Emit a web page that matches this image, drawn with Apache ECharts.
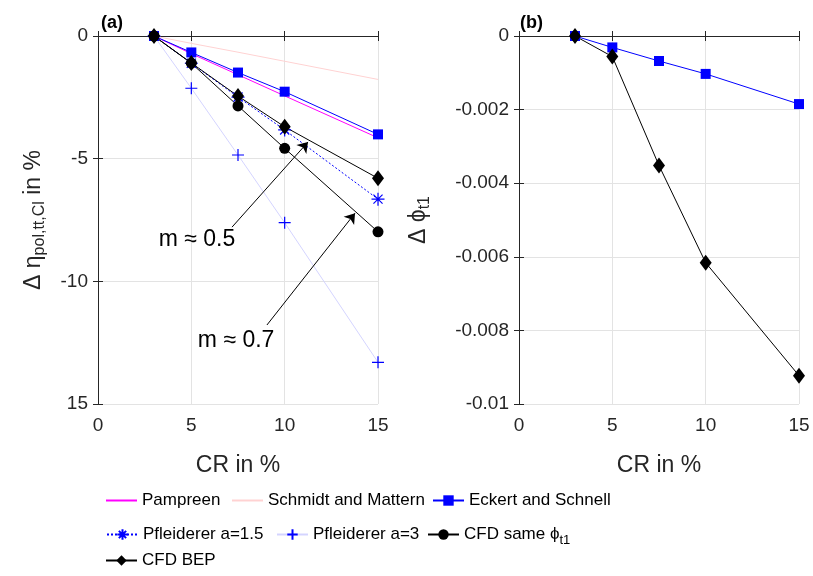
<!DOCTYPE html>
<html>
<head>
<meta charset="utf-8">
<script src="https://cdn.jsdelivr.net/npm/echarts@6/dist/echarts.min.js"></script>
<style>
  html, body { margin: 0; padding: 0; background: #fff; }
  #chart { width: 813px; height: 576px; }
</style>
</head>
<body>
<div id="chart"></div>
<script>
// CR values (%)
const cr = [3, 5, 7.5, 10, 15];

// panel (a): change of efficiency in %
const pampreen = [0, -0.72, -1.58, -2.44, -4.15];
const schmidt = [0, -0.3, -0.66, -1.03, -1.77];
const eckertA = [0, -0.67, -1.49, -2.27, -4.01];
const pfl15 = [0, -1.11, -2.49, -3.83, -6.65];
const pfl3 = [0, -2.13, -4.85, -7.61, -13.3];
const cfdSame = [0, -1.11, -2.85, -4.58, -7.98];
const cfdBepA = [0, -1.1, -2.45, -3.7, -5.8];

// panel (b): change of flow coefficient
const eckertB = [0, -0.00031, -0.00068, -0.00103, -0.00185];
const cfdBepB = [0, -0.00056, -0.00352, -0.00616, -0.00923];

// tick labels
const xTickValues = [0, 5, 10, 15];
const leftTickValues = [0, -5, -10, -15];
const leftTickLabels = ['0', '-5', '-10', '15'];
const rightTickValues = [0, -0.002, -0.004, -0.006, -0.008, -0.01];
const rightTickLabels = ['0', '-0.002', '-0.004', '-0.006', '-0.008', '-0.01'];

// annotation arrows in panel (a): [tail, head]
const arrows = [
  [[7.18, -7.79], [11.25, -4.32]],
  [[9.05, -11.78], [13.77, -7.22]]
];
const notes = [
  { text: 'm ≈ 0.5', at: [5.3, -8.3] },
  { text: 'm ≈ 0.7', at: [7.4, -12.4] }
];

const FONT = '"Liberation Sans", Arial, sans-serif';
const AX = '#262626';
const pts = (vals) => cr.map((x, i) => [x, vals[i]]);

const asterisk = 'path://M0,-10L0,10M-10,0L10,0M-7,-7L7,7M-7,7L7,-7';
const plus = 'path://M0,-10L0,10M-10,0L10,0';

function tickFmt(values, labels) {
  return (v) => {
    const i = values.findIndex(t => Math.abs(t - v) < 1e-9);
    return i >= 0 ? labels[i] : '';
  };
}

function xAxes(gridIndex) {
  return [
    {
      type: 'value', gridIndex, min: 0, max: 15, interval: 5,
      name: 'CR in %', nameLocation: 'middle', nameGap: 50,
      nameTextStyle: { fontSize: 23, color: AX, fontFamily: FONT },
      axisLine: { lineStyle: { color: AX } },
      axisTick: { inside: true, length: 5, lineStyle: { color: AX } },
      axisLabel: { fontSize: 19, color: AX, fontFamily: FONT, margin: 12,
        formatter: (v) => xTickValues.includes(v) ? String(v) : '' },
      splitLine: { show: true, lineStyle: { color: '#e3e3e3' } }
    },
    {
      type: 'value', gridIndex, min: 0, max: 15, interval: 5, position: 'top',
      axisLine: { lineStyle: { color: AX } },
      axisTick: { inside: true, length: 5, lineStyle: { color: AX } },
      axisLabel: { show: false }, splitLine: { show: false }
    }
  ];
}

function yAxes(gridIndex, min, interval, name, gap, values, labels, rich) {
  return [
    {
      type: 'value', gridIndex, min, max: 0, interval,
      name, nameLocation: 'middle', nameGap: gap, nameRotate: 90,
      nameTextStyle: { fontSize: 23, color: AX, fontFamily: FONT, rich },
      axisLine: { show: true, lineStyle: { color: AX } },
      axisTick: { show: true, inside: true, length: 5, lineStyle: { color: AX } },
      axisLabel: { fontSize: 19, color: AX, fontFamily: FONT, margin: 10,
        formatter: tickFmt(values, labels) },
      splitLine: { show: true, lineStyle: { color: '#e3e3e3' } }
    },
    {
      type: 'value', gridIndex, min, max: 0, interval, position: 'right',
      axisLine: { show: true, lineStyle: { color: AX } },
      axisTick: { show: true, inside: true, length: 5, lineStyle: { color: AX } },
      axisLabel: { show: false }, splitLine: { show: false }
    }
  ];
}

const subRich = {
  a: { fontSize: 23, color: AX, fontFamily: FONT },
  s: { fontSize: 16, color: AX, fontFamily: FONT, padding: [12, 0, 0, 0] }
};

function line(name, data, xi, yi, opts) {
  return Object.assign({
    name, type: 'line', xAxisIndex: xi, yAxisIndex: yi, data,
    symbol: 'none', animation: false, z: 3
  }, opts);
}

const series = [
  line('Pampreen', pts(pampreen), 0, 0, {
    lineStyle: { color: '#ff00ff', width: 1 }, itemStyle: { color: '#ff00ff' } }),
  line('Schmidt and Mattern', pts(schmidt), 0, 0, {
    lineStyle: { color: '#ffd2d2', width: 1 }, itemStyle: { color: '#ffd2d2' } }),
  line('Eckert and Schnell', pts(eckertA), 0, 0, {
    symbol: 'rect', symbolSize: 10,
    lineStyle: { color: '#0000ff', width: 1 }, itemStyle: { color: '#0000ff' } }),
  line('Pfleiderer a=1.5', pts(pfl15), 0, 0, {
    symbol: asterisk, symbolSize: 13,
    lineStyle: { color: '#0000ff', width: 1, type: [2, 2] },
    itemStyle: { color: 'transparent', borderColor: '#0000ff', borderWidth: 1.2 } }),
  line('Pfleiderer a=3', pts(pfl3), 0, 0, {
    symbol: plus, symbolSize: 12,
    lineStyle: { color: '#d4d4ff', width: 1 },
    itemStyle: { color: 'transparent', borderColor: '#0000ff', borderWidth: 1.2 } }),
  line('CFD same ϕ', pts(cfdSame), 0, 0, {
    symbol: 'circle', symbolSize: 11,
    lineStyle: { color: '#000', width: 1 }, itemStyle: { color: '#000' } }),
  line('CFD BEP', pts(cfdBepA), 0, 0, {
    symbol: 'diamond', symbolSize: [12, 16],
    lineStyle: { color: '#000', width: 1 }, itemStyle: { color: '#000' },
    markLine: {
      silent: true, symbol: ['none', 'arrow'], symbolSize: 10,
      lineStyle: { color: '#000', width: 1, type: 'solid' },
      label: { show: false },
      data: arrows.map(a => [{ coord: a[0] }, { coord: a[1] }])
    },
    markPoint: {
      silent: true, symbol: 'circle', symbolSize: 0,
      label: { show: true, position: 'inside', fontSize: 23, color: '#000', fontFamily: FONT,
        formatter: (p) => p.name },
      data: notes.map(n => ({ name: n.text, coord: n.at }))
    } }),
  line('Eckert and Schnell', pts(eckertB), 2, 2, {
    symbol: 'rect', symbolSize: 10,
    lineStyle: { color: '#0000ff', width: 1 }, itemStyle: { color: '#0000ff' } }),
  line('CFD BEP', pts(cfdBepB), 2, 2, {
    symbol: 'diamond', symbolSize: [12, 16],
    lineStyle: { color: '#000', width: 1 }, itemStyle: { color: '#000' } })
];

// legend entries: name, icon left, top, line-only?
const legendSpots = [
  ['Pampreen', 105, 492, true], ['Schmidt and Mattern', 231, 492, true], ['Eckert and Schnell', 432, 492, false],
  ['Pfleiderer a=1.5', 106, 526, false], ['Pfleiderer a=3', 276, 526, false], ['CFD same ϕ', 427, 526, false],
  ['CFD BEP', 105, 552, false]
];

const legend = legendSpots.map(([name, left, top, lineOnly]) => ({
  data: [lineOnly ? { name, itemStyle: { color: 'transparent', borderColor: 'transparent' } } : name],
  left, top, itemWidth: 31, itemHeight: 13, padding: 0,
  selectedMode: false,
  textStyle: { fontSize: 17, color: '#000', fontFamily: FONT,
    rich: { a: { fontSize: 17, color: '#000', fontFamily: FONT },
            s: { fontSize: 13, color: '#000', fontFamily: FONT, padding: [11, 0, 0, 0] } } },
  formatter: (n) => n === 'CFD same ϕ' ? '{a|CFD same ϕ}{s|t1}' : n
}));

const chart = echarts.init(document.getElementById('chart'));
chart.setOption({
  animation: false,
  backgroundColor: '#fff',
  title: [
    { text: '(a)', left: 96, top: 9, textStyle: { fontSize: 18, fontWeight: 'bold', color: '#000', fontFamily: FONT } },
    { text: '(b)', left: 515, top: 9, textStyle: { fontSize: 18, fontWeight: 'bold', color: '#000', fontFamily: FONT } }
  ],
  grid: [
    { left: 98, top: 36, width: 280, height: 368 },
    { left: 519, top: 36, width: 280, height: 368 }
  ],
  xAxis: [...xAxes(0), ...xAxes(1)],
  yAxis: [
    ...yAxes(0, -15, 5, '{a|Δ η}{s|pol,tt,Cl}{a| in %}', 50, leftTickValues, leftTickLabels, subRich),
    ...yAxes(1, -0.01, 0.002, '{a|Δ ϕ}{s|t1}', 86, rightTickValues, rightTickLabels, subRich)
  ],
  legend,
  series
});
</script>
</body>
</html>
